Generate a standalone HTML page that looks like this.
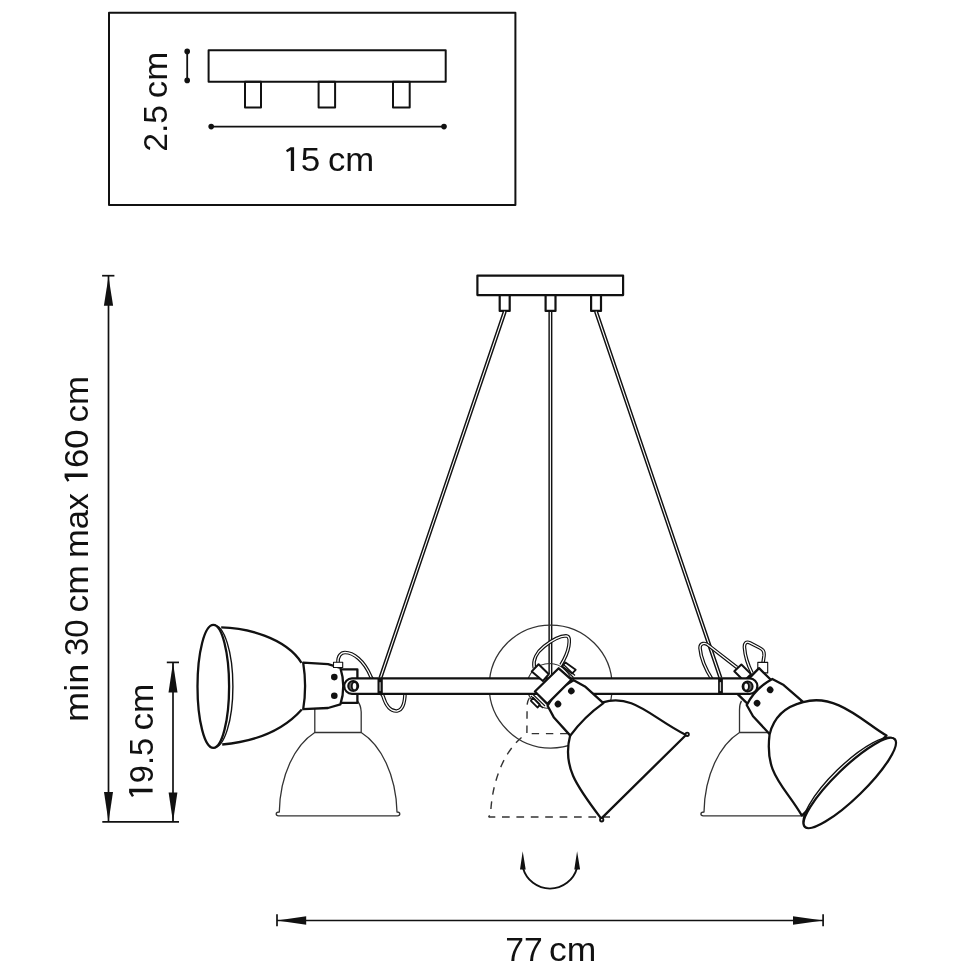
<!DOCTYPE html>
<html><head><meta charset="utf-8"><style>
html,body{margin:0;padding:0;background:#fff;width:970px;height:970px;overflow:hidden}
svg{display:block;filter:grayscale(1)}
text{font-family:"Liberation Sans",sans-serif;fill:#111}
</style></head><body>
<svg width="970" height="970" viewBox="0 0 970 970" stroke-linejoin="round">
<defs>
<!-- lamp joint+neck in local coords (u along axis toward opening, v lateral, tab at v<0) -->
<g id="neck">
  <path d="M50.2 -23.7 L25.4 -22.2 L13 -18.6 Q7.2 0 13 18 L25.4 21.6 L50.2 22.7 Q46.4 0 50.2 -23.7 Z" fill="#fff" stroke="#111" stroke-width="2.3"/>
  <circle cx="19.1" cy="-9.3" r="3.3" fill="#111"/>
  <circle cx="19.1" cy="9.4" r="3.3" fill="#111"/>
</g>
<g id="shade">
  <path d="M131.7 -58.5 C114.9 -57.1 76.6 -54.5 52 -23.5 Q46 0 52 23.5 C76.6 54.5 114.9 57.1 131.7 58.5 Z" fill="#fff" stroke="#111" stroke-width="2.3" stroke-linejoin="round"/>
</g>
<g id="shade2">
  <path d="M131.5 -59 C119.8 -58.8 64.3 -51.3 50 -23.3 Q44 0 50 23.3 C64.3 51.3 119.8 58.8 131.5 59 Z" fill="#fff" stroke="#111" stroke-width="2.3" stroke-linejoin="round"/>
</g>
<g id="bracket">
  <path d="M12.5 -17 L-4 -17 L-4 16.5 L12.5 16.5 Z" fill="#fff" stroke="none"/><path d="M12.5 -17 L-4 -17 L-4 16.5 L12.5 16.5" fill="none" stroke="#111" stroke-width="2.3"/>
</g>
<g id="ghost">
  <path d="M316.8 700.8 Q314.8 704 314.8 710 L314.8 732.5 M357.8 701.5 Q360.8 705 361.2 712 L361.2 732.5 M314.8 732.5 L361.2 732.5 M314.8 732.5 C295 745 280 775 279.3 812 Q276.2 812 276.2 814 Q276.2 815.8 278.5 815.8 L397.5 815.8 Q399.8 815.8 399.8 814 Q399.8 812 397 812 C396 775 381 745 361.2 732.5" fill="none" stroke="#333" stroke-width="1.3"/>
</g>
</defs>

<!-- ===== inset box ===== -->
<rect x="109" y="12.8" width="406.4" height="192.1" fill="none" stroke="#111" stroke-width="2"/>
<rect x="208.6" y="50.3" width="237.1" height="31.5" fill="none" stroke="#111" stroke-width="2"/>
<rect x="245" y="81.8" width="16" height="25.6" fill="none" stroke="#111" stroke-width="2"/>
<rect x="318.6" y="81.8" width="16.5" height="25.6" fill="none" stroke="#111" stroke-width="2"/>
<rect x="393" y="81.8" width="16.7" height="25.6" fill="none" stroke="#111" stroke-width="2"/>
<line x1="187.2" y1="51.4" x2="187.2" y2="80.4" stroke="#111" stroke-width="1.8"/>
<circle cx="187.2" cy="51.4" r="2.8" fill="#111"/><circle cx="187.2" cy="80.4" r="2.8" fill="#111"/>
<line x1="211.2" y1="126.6" x2="444" y2="126.6" stroke="#111" stroke-width="1.8"/>
<circle cx="211.2" cy="126.6" r="2.8" fill="#111"/><circle cx="444" cy="126.6" r="2.8" fill="#111"/>
<g id="t25"><text transform="translate(167.1 151.80) rotate(-90)" font-size="33" textLength="46.90" lengthAdjust="spacingAndGlyphs">2.5</text><text transform="translate(167.1 98.20) rotate(-90)" font-size="33" textLength="46.30" lengthAdjust="spacingAndGlyphs">cm</text></g>
<g id="t15"><text x="300.80" y="171.4" font-size="34" textLength="19.50" lengthAdjust="spacingAndGlyphs">5</text><text x="328.00" y="171.4" font-size="34" textLength="46.30" lengthAdjust="spacingAndGlyphs">cm</text></g>

<!-- ===== dimensions ===== -->
<g stroke="#111" stroke-width="1.7" fill="none">
  <line x1="108.5" y1="276" x2="108.5" y2="822"/>
  <line x1="102.1" y1="275.7" x2="114.4" y2="275.7"/>
  <line x1="102.3" y1="821.9" x2="179" y2="821.9"/>
  <line x1="173" y1="662.4" x2="173" y2="822"/>
  <line x1="166.8" y1="662.4" x2="179" y2="662.4"/>
  <line x1="277" y1="920.5" x2="823.1" y2="920.5"/>
  <line x1="277" y1="914.3" x2="277" y2="926.3"/>
  <line x1="823.1" y1="914.3" x2="823.1" y2="926.3"/>
</g>
<g fill="#111">
  <path d="M108.5 276.5 L113.1 305.8 L103.9 305.8 Z"/>
  <path d="M108.5 822 L113 792 L104 792 Z"/>
  <path d="M173 662.4 L177.5 692.4 L168.5 692.4 Z"/>
  <path d="M173 822 L177.4 792.6 L168.6 792.6 Z"/>
  <path d="M277 920.5 L306.2 916.3 L306.2 924.7 Z"/>
  <path d="M823.1 920.5 L793 916.3 L793 924.7 Z"/>
</g>
<g id="bigtext"><text transform="translate(87.8 722.00) rotate(-90)" font-size="33" textLength="58.50" lengthAdjust="spacingAndGlyphs">min</text><text transform="translate(87.8 656.00) rotate(-90)" font-size="33" textLength="36.50" lengthAdjust="spacingAndGlyphs">30</text><text transform="translate(87.8 612.50) rotate(-90)" font-size="33" textLength="47.50" lengthAdjust="spacingAndGlyphs">cm</text><text transform="translate(87.8 558.00) rotate(-90)" font-size="33" textLength="65.00" lengthAdjust="spacingAndGlyphs">max</text><text transform="translate(87.8 468.00) rotate(-90)" font-size="33" textLength="38.50" lengthAdjust="spacingAndGlyphs">60</text><text transform="translate(87.8 422.50) rotate(-90)" font-size="33" textLength="46.50" lengthAdjust="spacingAndGlyphs">cm</text></g>
<g id="t195"><text transform="translate(152.8 783.20) rotate(-90)" font-size="33" textLength="45.30" lengthAdjust="spacingAndGlyphs">9.5</text><text transform="translate(152.8 730.60) rotate(-90)" font-size="33" textLength="46.90" lengthAdjust="spacingAndGlyphs">cm</text></g>
<g id="t77"><text x="505.20" y="960.8" font-size="34" textLength="37.50" lengthAdjust="spacingAndGlyphs">77</text><text x="549.00" y="960.8" font-size="34" textLength="47.30" lengthAdjust="spacingAndGlyphs">cm</text></g>

<g fill="#111">
<path transform="translate(286.2 147.3)" d="M7.9 0 L7.9 23.8 L4.6 23.8 L4.6 2.9 L0.9 5.0 L-0.2 2.9 L4.3 0 Z"/>
<path transform="translate(129.1 796.75) rotate(-90) scale(1 0.987)" d="M7.9 0 L7.9 23.8 L4.6 23.8 L4.6 2.9 L0.9 5.0 L-0.2 2.9 L4.3 0 Z"/>
<path transform="translate(64.6 481.5) rotate(-90) scale(1 0.97)" d="M7.9 0 L7.9 23.8 L4.6 23.8 L4.6 2.9 L0.9 5.0 L-0.2 2.9 L4.3 0 Z"/>
</g>
<!-- rotation arrow -->
<path d="M523 868 A28 28 0 0 0 577 868" fill="none" stroke="#111" stroke-width="1.9"/>
<path d="M522.7 851.3 L525.7 869.4 L520 869.4 Z M577.1 851.3 L580.1 869.4 L574.3 869.4 Z" fill="#111"/>

<!-- ===== ceiling plate ===== -->
<rect x="477.4" y="275.6" width="145.7" height="19.5" fill="#fff" stroke="#111" stroke-width="2.2"/>
<rect x="499.7" y="295.1" width="10" height="15.8" fill="#fff" stroke="#111" stroke-width="2.2"/>
<rect x="545.6" y="295.1" width="9.9" height="15.8" fill="#fff" stroke="#111" stroke-width="2.2"/>
<rect x="591.1" y="295.1" width="9.9" height="15.8" fill="#fff" stroke="#111" stroke-width="2.2"/>

<!-- cables -->
<g fill="none">
  <path d="M504.8 311.5 L380.4 678 M550.4 312 L550.4 674 M596 311.5 L720.5 678" stroke="#111" stroke-width="4"/>
  <path d="M504.8 311.5 L380.4 678 M550.4 312 L550.4 674 M596 311.5 L720.5 678" stroke="#fff" stroke-width="1.1"/>
</g>

<!-- big thin circle -->
<circle cx="550.7" cy="686.5" r="61.5" fill="none" stroke="#333" stroke-width="1.25"/>

<!-- ghost shades -->
<use href="#ghost"/>
<use href="#ghost" transform="translate(424.7 0)"/>
<path d="M488.6 817 L610 817" fill="none" stroke="#333" stroke-width="1.4" stroke-dasharray="7.7 6.7" stroke-dashoffset="1"/>
<path d="M529.3 698 Q527.2 701.5 527.1 705 L526.9 733.6" fill="none" stroke="#333" stroke-width="1.4" stroke-dasharray="7.4 6.8" stroke-dashoffset="0.5"/>
<path d="M526.9 733.6 L568 733.6" fill="none" stroke="#333" stroke-width="1.4" stroke-dasharray="7.4 6.8" stroke-dashoffset="9.4"/>
<path d="M526.9 733.6 C507.3 746 492.3 776 490.6 814 L488.6 817" fill="none" stroke="#333" stroke-width="1.4" stroke-dasharray="7.7 6.7" stroke-dashoffset="7.7"/>

<!-- ===== left lamp ===== -->
<path d="M221.2 627.4 C245.4 627.7 285.4 637.3 301.5 662.8 L301.8 709.5 C277.2 737 243.7 742.6 222.2 744.5 Z" fill="#fff" stroke="none"/>
<path d="M221.2 627.4 C245.4 627.7 285.4 637.3 301.5 662.8 M301.8 709.5 C277.2 737 243.7 742.6 222.2 744.5" fill="none" stroke="#111" stroke-width="2.3"/>
<ellipse cx="213.3" cy="686.4" rx="15.8" ry="61.5" fill="#fff" stroke="#111" stroke-width="2.3"/>
<path d="M213.6 624.9 A19.3 61.5 0 0 1 213.6 747.9" fill="none" stroke="#111" stroke-width="1.4"/>
<g fill="none">
  <path d="M338 663 C337.5 656 341 652.5 345 652.5 C353 652.5 364 660 371 677 L383 696 C386 706 391 711.5 397 711 C403 710 405 702 405 692" stroke="#111" stroke-width="3.6"/>
  <path d="M338 663 C337.5 656 341 652.5 345 652.5 C353 652.5 364 660 371 677 L383 696 C386 706 391 711.5 397 711 C403 710 405 702 405 692" stroke="#fff" stroke-width="1.3"/>
</g>
<g transform="translate(353.4 686.4) scale(-1 1)"><use href="#bracket"/><use href="#neck"/></g>
<rect x="333.5" y="662.3" width="9.2" height="5.2" fill="#fff" stroke="#111" stroke-width="1.1"/>

<!-- ===== right lamp ===== -->
<g fill="none">
  <path d="M763 663 L764 656 C764.5 651 763 649.5 759 647.5 L750 642.8 C746 641 744 643.5 744.5 648 C745 655 747 663 752 673" stroke="#111" stroke-width="3.6"/>
  <path d="M763 663 L764 656 C764.5 651 763 649.5 759 647.5 L750 642.8 C746 641 744 643.5 744.5 648 C745 655 747 663 752 673" stroke="#fff" stroke-width="1.3"/>
  <path d="M737 667.5 L709.1 645.8 C705 642 700 643 700 648 C701 660 706 670 712.4 680" stroke="#111" stroke-width="3.6"/>
  <path d="M737 667.5 L709.1 645.8 C705 642 700 643 700 648 C701 660 706 670 712.4 680" stroke="#fff" stroke-width="1.3"/>
</g>
<rect x="757.8" y="662.4" width="9.9" height="10.5" fill="#fff" stroke="#111" stroke-width="1.1"/>
<path d="M734.3 671.3 L741.4 664.5 L751 674.1 L744 681 Z" fill="#fff" stroke="#111" stroke-width="2"/>
<g transform="translate(750 683.1) rotate(44.4)"><use href="#bracket"/><use href="#neck"/></g>
<path d="M803.2 702.2 C836 692 865.3 723.6 886.5 735.5 L801.8 815.5 C783.6 784.8 764.5 774.4 769.6 734.4 Q775.75 708.9 803.2 702.2 Z" fill="#fff" stroke="#111" stroke-width="2.3"/>
<ellipse cx="0" cy="0" rx="15" ry="62.8" transform="translate(849.8 783) rotate(45.7)" fill="#fff" stroke="#111" stroke-width="2.3"/>
<path d="M0 -62.8 A18 62.8 0 0 0 0 62.8" transform="translate(849.8 783) rotate(45.7)" fill="none" stroke="#111" stroke-width="1.4"/>

<!-- ===== center lamp (behind arm) ===== -->
<circle cx="549.5" cy="686" r="22.5" fill="none" stroke="#333" stroke-width="1.2"/>
<g fill="none">
  <path d="M534.3 668 C532.5 660 537 652 544 646.5 C552 640 560 636 566 635.8 C570 636 569.5 641 568.8 646 C567.5 654 564 660 560.9 665" stroke="#111" stroke-width="3.6"/>
  <path d="M534.3 668 C532.5 660 537 652 544 646.5 C552 640 560 636 566 635.8 C570 636 569.5 641 568.8 646 C567.5 654 564 660 560.9 665" stroke="#fff" stroke-width="1.3"/>
</g>

<!-- arm -->
<rect x="344.2" y="678.4" width="413.2" height="15.4" rx="7.7" fill="#fff" stroke="#111" stroke-width="2.2"/>
<rect x="377.5" y="678" width="5.3" height="16.2" rx="1" fill="#111"/>
<rect x="379.4" y="682" width="1.4" height="9.2" rx="0.7" fill="#aaa"/>
<rect x="718.1" y="678" width="4.8" height="16.2" rx="1" fill="#111"/>
<rect x="719.8" y="682" width="1.3" height="9.2" rx="0.7" fill="#ccc"/>
<circle cx="353.2" cy="686.1" r="5" fill="#666" stroke="#111" stroke-width="2"/>
<ellipse cx="354.5" cy="686.2" rx="2.7" ry="4" fill="#fff" stroke="#111" stroke-width="1.8"/>
<circle cx="747.6" cy="686.5" r="5" fill="#666" stroke="#111" stroke-width="2"/>
<ellipse cx="746.2" cy="686.5" rx="2.7" ry="4" fill="#fff" stroke="#111" stroke-width="1.8"/>

<!-- center lamp body (in front of arm) -->
<path d="M602.8 702.4 C632.6 692.9 651.8 717.9 686 735 L601.2 818.6 C575.9 785.4 562.1 766 570.2 735.2 Q579 712 602.8 702.4 Z" fill="#fff" stroke="none"/>
<path d="M602.8 702.4 C632.6 692.9 651.8 717.9 686 735 L601.2 818.6 C575.9 785.4 562.1 766 570.2 735.2" fill="none" stroke="#111" stroke-width="2.3"/>
<g transform="translate(551.3 683.9) rotate(45.5)">
  <use href="#neck"/>
</g>
<circle cx="687.2" cy="734.3" r="1.7" fill="#fff" stroke="#111" stroke-width="1.8"/>
<circle cx="601.7" cy="819.8" r="1.7" fill="#fff" stroke="#111" stroke-width="1.8"/>
<path d="M531.8 671.4 L538.6 664.3 L548.8 674.2 L542.9 681 Z" fill="#fff" stroke="#111" stroke-width="2"/>
<path d="M565.5 662.4 L575.7 669.8 L572 673.6 L562.1 666.1 Z" fill="#fff" stroke="#111" stroke-width="1.8"/>
<path d="M533 697.7 L539.8 704.5 L537.7 707.6 L530.9 700.8 Z" fill="#fff" stroke="#111" stroke-width="1.8"/>
<path d="M558.7 668.3 L571.4 679.7 L547.3 703.9 L534.9 691.5 Z" fill="#fff" stroke="#111" stroke-width="2.3"/>
<path d="M561 666 L573.5 677.5 M563 664 L575 675.5 M532.5 694 L545 706 M531 696 L543 708" stroke="#111" stroke-width="1.1"/>
</svg>
</body></html>
